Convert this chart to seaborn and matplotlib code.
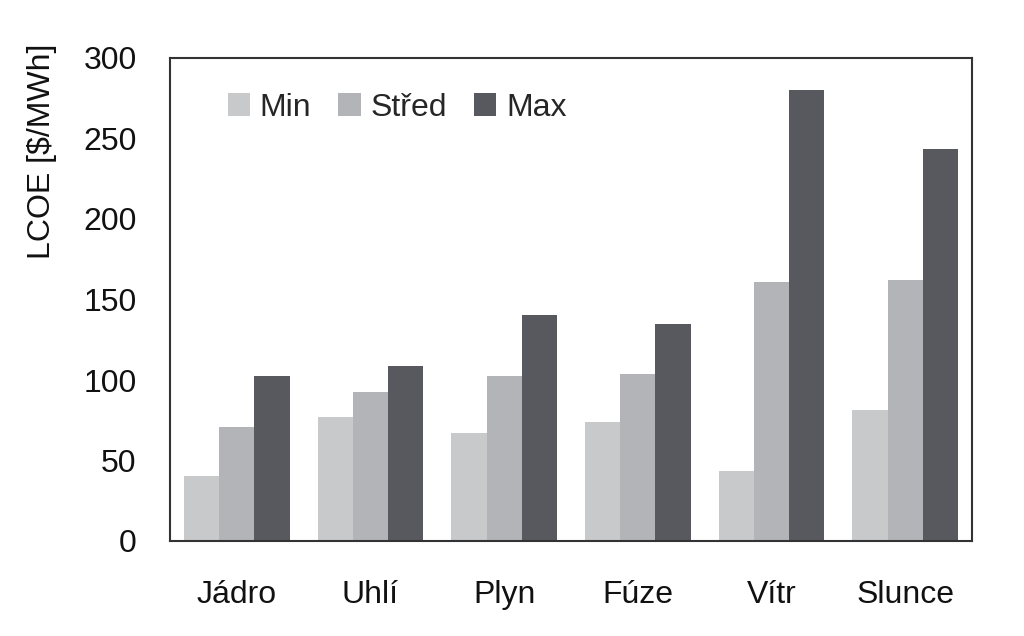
import matplotlib
matplotlib.use("Agg")
import matplotlib.pyplot as plt
import seaborn as sns
import pandas as pd

categories = ["Jádro", "Uhlí", "Plyn", "Fúze", "Vítr", "Slunce"]
series_names = ["Min", "Střed", "Max"]
min_vals = [40.6, 77.2, 66.9, 74.1, 43.5, 81.2]
mid_vals = [71.0, 92.7, 102.7, 103.7, 160.7, 161.9]
max_vals = [102.5, 108.7, 140.4, 134.6, 280.1, 243.3]
y_ticks = [0, 50, 100, 150, 200, 250, 300]

rows = []
for name, vals in zip(series_names, [min_vals, mid_vals, max_vals]):
    for c, v in zip(categories, vals):
        rows.append({"cat": c, "series": name, "val": v})
df = pd.DataFrame(rows)

sns.set_theme(style="white")
plt.rcParams["font.family"] = ["Liberation Sans", "DejaVu Sans"]

fig = plt.figure(figsize=(10.24, 6.36), dpi=100)
ax = fig.add_axes([170/1024, 1-541/636, 802/1024, 483/636])

palette = {"Min": "#c8c9cb", "Střed": "#b3b4b7", "Max": "#58595e"}
sns.barplot(data=df, x="cat", y="val", hue="series", order=categories,
            hue_order=series_names, palette=palette, width=0.79,
            saturation=1, ax=ax, linewidth=0, edgecolor="none")

ax.set_ylim(0, 300)
ax.set_xlim(-0.5, 5.5)
ax.set_yticks(y_ticks)
ax.set_yticklabels([str(t) for t in y_ticks])
ax.tick_params(axis="y", length=0, pad=24, labelsize=23, colors="#111111")
ax.tick_params(axis="x", length=0, pad=28, labelsize=23, colors="#111111")
ax.set_xlabel("")
ax.set_ylabel("LCOE [$/MWh]", fontsize=23, color="#111111")
ax.yaxis.set_label_coords(-0.141, 0.807)

for s in ax.spines.values():
    s.set_visible(True)
    s.set_color("#333333")
    s.set_linewidth(1.5)

leg = ax.legend(loc="upper left", ncol=3, frameon=False, fontsize=23,
                bbox_to_anchor=(0.056, 0.955), handlelength=0.7, handleheight=0.7,
                handletextpad=0.3, columnspacing=0.85, borderaxespad=0)

fig.savefig("out.png", dpi=100, facecolor="white")
